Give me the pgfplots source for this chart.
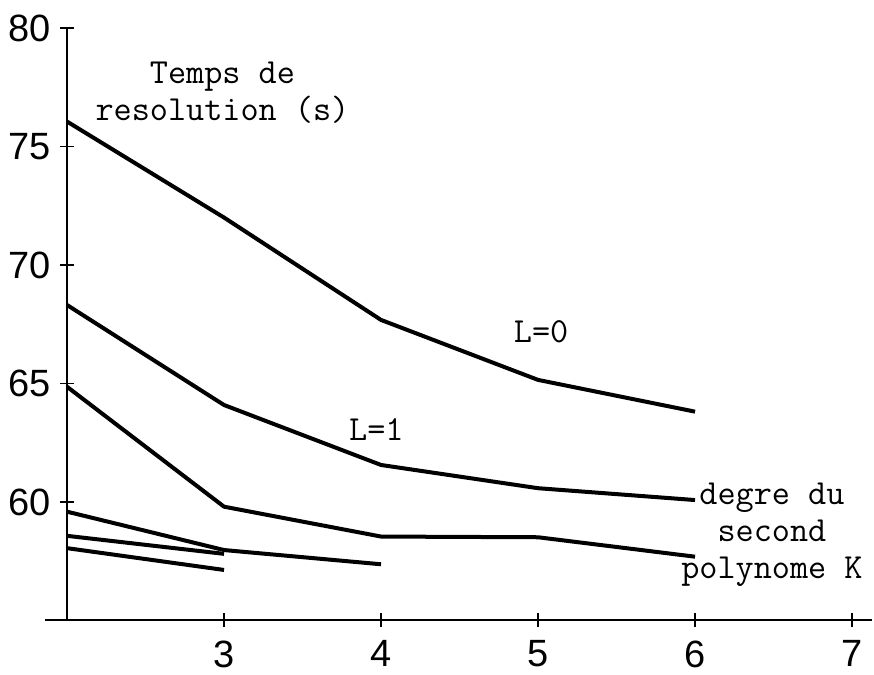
\documentclass[border=0pt]{standalone}
\usepackage{pgfplots}
\pgfplotsset{compat=1.18}
\usepackage{fontspec}
\newfontfamily\tickfont{Liberation Sans}

\pgfplotsset{curve/.style={black, solid, line width=2pt, line join=round, no markers}}
\tikzset{lbl/.style={font=\ttfamily\fontsize{17.6}{18.5}\selectfont, align=center}}

\begin{document}
\begin{tikzpicture}
\begin{axis}[
    x=78.5pt, y=11.85pt,
    xmin=2, xmax=7.13, ymin=55, ymax=80,
    axis lines=left,
    axis line style={-, line width=1pt},
    xtick={3,4,5,6,7}, ytick={60,65,70,75,80},
    tick align=center, major tick length=7pt,
    tick style={line width=0.8pt, black},
    /pgf/number format/assume math mode=true,
    tick label style={font=\tickfont\fontsize{19}{19}\selectfont},
    xticklabel style={yshift=-3pt},
    yticklabel style={xshift=-1pt},
    clip=false,
]
% L=0
\addplot[curve] coordinates {(2,76.05) (3,72.0) (4,67.68) (5,65.15) (6,63.81)};
% L=1
\addplot[curve] coordinates {(2,68.31) (3,64.09) (4,61.56) (5,60.58) (6,60.08)};
\addplot[curve] coordinates {(2,64.86) (3,59.80) (4,58.54) (5,58.51) (6,57.69)};
\addplot[curve] coordinates {(2,59.59) (3,57.97) (4,57.37)};
\addplot[curve] coordinates {(2,58.57) (3,57.81)};
\addplot[curve] coordinates {(2,58.05) (3,57.13)};

\draw[line width=1pt] (axis cs:1.86,55) -- (axis cs:2,55);
\node[lbl] at (axis cs:2.99,77.26) {Temps de\\resolution (s)};
\node[lbl] at (axis cs:5.02,67.19) {L=0};
\node[lbl] at (axis cs:3.97,63.04) {L=1};
\node[lbl] at (axis cs:6.49,58.61) {degre du\\second\\polynome K};
\path (axis cs:1.573,53.08) rectangle (axis cs:7.14,81.18);
\end{axis}
\end{tikzpicture}
\end{document}
